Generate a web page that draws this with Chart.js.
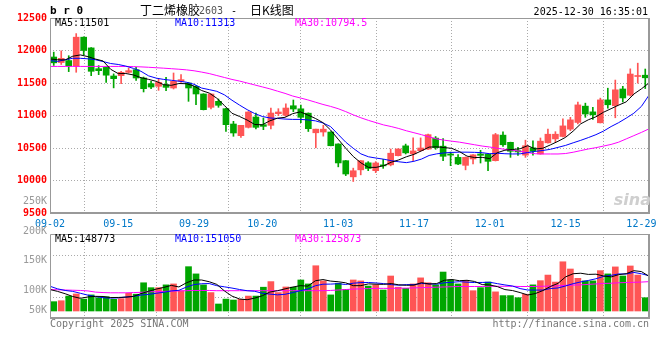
<!DOCTYPE html>
<html lang="zh-CN">
<head>
  <meta charset="UTF-8">
  <title>丁二烯橡胶2603 - 日K线图</title>
  <script src="https://cdn.jsdelivr.net/npm/chart.js"></script>
  <style>
    * { box-sizing: border-box; }
    body { margin: 0; background: #fff; }
    #wrap { position: relative; width: 660px; height: 360px; }
    #kChart { position: absolute; left: 0; top: 0; }
    #volChart { position: absolute; left: 0; top: 195px; }
  </style>
</head>
<body>
  <div id="wrap">
    <canvas id="kChart" width="660" height="232"></canvas>
    <canvas id="volChart" width="660" height="165"></canvas>
  </div>

  <script>
    const dates = [
      '09-02','09-03','09-04','09-05','09-08','09-09','09-10','09-11','09-12','09-15',
      '09-16','09-17','09-18','09-19','09-22','09-23','09-24','09-25','09-26','09-29',
      '09-30','10-09','10-10','10-13','10-14','10-15','10-16','10-17','10-20','10-21',
      '10-22','10-23','10-24','10-27','10-28','10-29','10-30','10-31','11-03','11-04',
      '11-05','11-06','11-07','11-10','11-11','11-12','11-13','11-14','11-17','11-18',
      '11-19','11-20','11-21','11-24','11-25','11-26','11-27','11-28','12-01','12-02',
      '12-03','12-04','12-05','12-08','12-09','12-10','12-11','12-12','12-15','12-16',
      '12-17','12-18','12-19','12-22','12-23','12-24','12-25','12-26','12-29','12-30'
    ];
    const tickDates = ['09-02','09-15','09-29','10-20','11-03','11-17','12-01','12-15','12-29'];

    const opens = [
      11900,11815,11845,11765,12205,12040,11720,11740,11608,11613,
      11664,11705,11577,11490,11449,11474,11423,11526,11500,11449,
      11331,11126,11218,11105,10869,10690,10818,10977,10859,10849,
      11028,11003,11150,11103,11036,10734,10746,10746,10562,10305,
      10056,10164,10272,10151,10238,10241,10382,10533,10410,10459,
      10483,10652,10528,10408,10356,10233,10331,10408,10408,10305,
      10698,10587,10459,10390,10503,10408,10580,10640,10677,10790,
      10893,11144,11056,10888,11240,11150,11408,11312,11600,11620
    ];
    const highs = [
      11975,11995,11920,12260,12210,12045,11767,11745,11640,11680,
      11730,11740,11592,11526,11562,11587,11654,11628,11505,11460,
      11335,11335,11254,11110,10910,10849,11060,11038,10962,11115,
      11105,11180,11238,11161,11040,10790,10850,10750,10565,10308,
      10190,10308,10290,10290,10325,10485,10487,10560,10655,10655,
      10715,10677,10644,10438,10397,10362,10400,10464,10410,10725,
      10748,10590,10510,10620,10610,10654,10792,10751,10950,10972,
      11208,11190,11126,11267,11420,11545,11449,11718,11805,11715
    ];
    const lows = [
      11770,11785,11675,11665,11935,11613,11628,11510,11425,11490,
      11654,11540,11362,11413,11387,11382,11408,11510,11218,11167,
      11085,11100,11126,10757,10680,10664,10808,10792,10782,10792,
      10997,10987,11059,10888,10754,10503,10682,10533,10210,10075,
      9985,10087,10151,10120,10187,10225,10380,10408,10305,10450,
      10480,10480,10305,10228,10244,10164,10254,10269,10151,10300,
      10526,10356,10387,10356,10390,10405,10575,10587,10670,10767,
      10870,10972,10938,10885,11112,10965,11208,11300,11498,11415
    ];
    const closes = [
      11810,11880,11765,12205,12000,11680,11690,11620,11567,11664,
      11690,11577,11413,11438,11510,11433,11526,11551,11423,11331,
      11090,11331,11157,10859,10731,10849,11054,10818,10833,11038,
      11054,11115,11100,10972,10797,10790,10790,10535,10270,10100,
      10150,10305,10185,10270,10225,10420,10485,10425,10455,10500,
      10705,10505,10372,10390,10254,10356,10395,10387,10295,10705,
      10550,10450,10440,10535,10449,10605,10712,10712,10840,10933,
      11163,11023,11010,11240,11165,11395,11270,11638,11605,11580
    ];
    const ma5 = [
      11870,11858,11855,11912,11932,11906,11868,11839,11711,11644,
      11646,11624,11582,11556,11526,11474,11464,11492,11489,11453,
      11384,11345,11266,11154,11034,10985,10930,10862,10857,10918,
      10959,10972,11028,11056,11008,10955,10890,10777,10636,10497,
      10369,10272,10202,10202,10227,10281,10317,10365,10402,10457,
      10514,10518,10507,10494,10445,10375,10353,10356,10337,10428,
      10466,10477,10488,10536,10485,10496,10548,10603,10664,10760,
      10872,10934,10980,11050,11105,11160,11210,11330,11410,11501
    ];
    const ma10 = [
      11845,11832,11858,11880,11880,11872,11858,11830,11800,11785,
      11760,11725,11680,11610,11575,11555,11542,11528,11512,11480,
      11422,11398,11372,11318,11235,11160,11090,11030,10985,10962,
      10955,10945,10940,10940,10932,10918,10885,10830,10710,10590,
      10495,10410,10365,10345,10328,10305,10288,10275,10295,10330,
      10385,10410,10425,10432,10436,10436,10433,10428,10412,10420,
      10412,10408,10410,10430,10448,10462,10480,10510,10540,10580,
      10618,10660,10705,10760,10830,10890,10960,11035,11140,11313
    ];
    const ma30 = [
      11755,11755,11755,11755,11755,11755,11755,11755,11755,11755,
      11755,11752,11748,11742,11735,11728,11720,11712,11702,11688,
      11668,11645,11615,11585,11555,11530,11500,11470,11440,11410,
      11375,11340,11300,11270,11240,11205,11170,11140,11105,11060,
      11010,10965,10925,10890,10855,10830,10800,10765,10735,10705,
      10670,10640,10620,10605,10590,10570,10550,10530,10515,10495,
      10480,10465,10450,10430,10412,10408,10408,10408,10415,10435,
      10460,10485,10505,10530,10555,10590,10640,10690,10740,10794.5
    ];

    const volumes = [
      40000,44000,64000,73000,51000,69000,57000,61000,50000,53000,
      76000,72000,121000,100000,100000,112000,116000,87000,190000,159000,
      112000,79000,30000,51000,47000,50000,64000,64000,102000,126000,
      79000,103000,102000,133000,116000,194000,129000,69000,119000,93000,
      133000,129000,107000,112000,90000,150000,102000,97000,116000,142000,
      121000,112000,167000,133000,116000,130000,87000,100000,124000,82000,
      66000,66000,57000,72000,112000,130000,154000,124000,211000,180000,
      140000,129000,129000,173000,159000,189000,150000,193000,154000,57000
    ];
    const volMa5 = [
      92000,84000,74000,62000,54400,60200,62800,62200,57600,58000,
      59400,62400,74400,84400,93800,101000,109800,103000,121000,132800,
      132800,125400,114000,86200,63800,51400,48400,55200,65400,81200,
      87000,94800,102400,108600,106600,129600,134800,128200,125400,120800,
      108600,108600,116200,114800,114200,117600,112200,110200,111000,121400,
      115600,117600,131600,135000,129800,131600,126600,113200,111400,104600,
      91800,87600,79000,68600,74600,87400,105000,118400,146200,159800,
      161800,156800,157800,150200,146000,155800,160000,172800,169000,148773
    ];
    const volMa10 = [
      106000,95000,88000,84000,76000,68000,62000,57000,55000,56200,
      59800,62600,68300,71000,75900,80200,86100,88700,102700,113300,
      116900,117600,108500,103600,98300,92100,86900,84600,75800,72500,
      69200,71600,78800,87000,93900,108300,114800,115300,117000,113700,
      119100,121700,122200,120100,117500,113100,110400,113200,112900,117800,
      116600,114900,120900,123000,125600,123600,122100,122400,123200,117200,
      111700,107100,96100,90000,89600,89600,96300,98700,107400,117200,
      124600,130900,138100,148200,152900,158800,158400,165300,159600,151050
    ];
    const volMa30 = [
      92000,91000,90000,89000,88000,86000,81000,79000,78000,78000,
      78000,79000,80000,82000,83000,84000,85000,86000,87000,88000,
      88000,88000,87000,87000,87000,87000,87000,87000,87000,87000,
      87000,87000,87000,87000,87000,87000,87000,88000,90000,92000,
      94000,95000,96000,97000,97000,97000,98000,98000,99000,100000,
      101000,102000,103000,104000,105000,105000,105000,105000,106000,106000,
      106000,106000,105000,105000,105000,106000,107000,108000,110000,111000,
      112000,114000,116000,118000,119000,121000,122000,123000,124000,125873
    ];
    const volTickValues = [250000, 200000, 150000, 100000, 50000];

    const UP = '#ff5555';
    const DOWN = '#00a600';
    const MONO = '"DejaVu Sans Mono", monospace';
    const CJK = '"Noto Sans CJK SC", sans-serif';

    const candleColors = closes.map((c, i) => c >= opens[i] ? UP : DOWN);
    const tickIdx = tickDates.map(d => dates.indexOf(d));
    const last = arr => arr[arr.length - 1];

    Chart.defaults.font.family = MONO;
    Chart.defaults.font.size = 10;
    Chart.defaults.animation = false;

    // grey box round the plot, right and bottom edges a bit heavier
    const frame = {
      id: 'frame',
      afterDraw(chart) {
        const { ctx, chartArea: a } = chart;
        ctx.save();
        ctx.strokeStyle = '#999';
        ctx.lineWidth = 1;
        ctx.beginPath();
        ctx.moveTo(a.left + 0.5, a.bottom);
        ctx.lineTo(a.left + 0.5, a.top + 0.5);
        ctx.lineTo(a.right, a.top + 0.5);
        ctx.stroke();
        ctx.lineWidth = 2;
        ctx.beginPath();
        ctx.moveTo(a.right, a.top);
        ctx.lineTo(a.right, a.bottom);
        ctx.lineTo(a.left, a.bottom);
        ctx.stroke();
        ctx.restore();
      }
    };

    function maLegend(items) {
      return {
        id: 'maLegend',
        afterDraw(chart) {
          const { ctx, chartArea: a } = chart;
          ctx.save();
          ctx.font = '10px ' + MONO;
          ctx.textBaseline = 'middle';
          ctx.textAlign = 'left';
          items.forEach((it, k) => {
            ctx.fillStyle = it.color;
            ctx.fillText(it.text, a.left + 5 + 120 * k, a.top + 5.5);
          });
          ctx.restore();
        }
      };
    }

    const header = {
      id: 'header',
      afterDraw(chart) {
        const ctx = chart.ctx;
        ctx.save();
        ctx.textBaseline = 'middle';
        ctx.fillStyle = '#000';
        ctx.font = 'bold 11px ' + MONO;
        ctx.fillText('b r 0', 50, 11);

        ctx.font = '12px ' + CJK;
        ctx.fillText('丁二烯橡胶', 140, 10);
        ctx.fillStyle = '#555';
        ctx.font = '10px ' + MONO;
        ctx.fillText('2603', 199, 11);
        ctx.fillStyle = '#000';
        ctx.fillText('-', 231, 11);
        ctx.font = '12px ' + CJK;
        ctx.fillText('日K线图', 250, 10);

        ctx.font = '10px ' + MONO;
        ctx.textAlign = 'right';
        ctx.fillText('2025-12-30 16:35:01', 648, 12.5);

        // sina watermark
        ctx.fillStyle = '#cfcfcf';
        ctx.font = 'italic bold 16px "DejaVu Sans", sans-serif';
        ctx.fillText('sina', 651, 201);
        ctx.restore();
      }
    };

    const volLabels = {
      id: 'volLabels',
      afterDraw(chart) {
        const { ctx, chartArea: a } = chart;
        const s = chart.scales.yl;
        ctx.save();
        ctx.font = '10px ' + MONO;
        ctx.textBaseline = 'middle';
        ctx.textAlign = 'right';
        ctx.fillStyle = '#999';
        volTickValues.forEach(v => {
          const y = Math.min(s.getPixelForValue(v), a.bottom - 8);
          ctx.fillText(v / 1000 + 'K', 47, y);
        });
        ctx.fillStyle = '#777';
        ctx.textAlign = 'left';
        ctx.fillText('Copyright 2025 SINA.COM', 50, 129);
        ctx.textAlign = 'right';
        ctx.fillText('http://finance.sina.com.cn', 649, 129);
        ctx.restore();
      }
    };

    const dotted = { display: false, dash: [1, 2] };

    function lineSet(data, color, order) {
      return {
        type: 'line', data, xAxisID: 'x2', borderColor: color, borderWidth: 1,
        pointRadius: 0, fill: false, tension: 0, order
      };
    }

    new Chart(document.getElementById('kChart'), {
      type: 'bar',
      data: {
        labels: dates,
        datasets: [
          lineSet(ma5, '#000', 0),
          lineSet(ma10, '#0000ff', 1),
          lineSet(ma30, '#ff00ff', 2),
          {
            data: opens.map((o, i) => [o, closes[i]]),
            xAxisID: 'x', backgroundColor: candleColors,
            barThickness: 6, grouped: false, minBarLength: 1, order: 4
          },
          {
            data: lows.map((l, i) => [l, highs[i]]),
            xAxisID: 'x', backgroundColor: candleColors,
            barThickness: 1, grouped: false, order: 5
          }
        ]
      },
      options: {
        responsive: false,
        layout: { padding: { top: 18, right: 11, left: 0, bottom: 0 } },
        plugins: { legend: { display: false }, tooltip: { enabled: false } },
        events: [],
        scales: {
          x: { type: 'category', offset: true, display: false },
          x2: {
            type: 'category', position: 'bottom', offset: false,
            grid: { color: '#aaa', drawTicks: false },
            border: dotted,
            ticks: { color: '#0078c8', padding: 5, autoSkip: false, maxRotation: 0 },
            afterBuildTicks: s => { s.ticks = tickIdx.map(v => ({ value: v })); },
            afterFit: s => { s.height = 19; s.paddingLeft = 0; s.paddingRight = 0; }
          },
          y: {
            min: 9500, max: 12500,
            grid: { color: '#aaa', drawTicks: false },
            border: dotted,
            ticks: {
              stepSize: 500, color: '#ff0000', padding: 3, font: { weight: 'bold' },
              callback: v => String(v)
            },
            afterFit: s => { s.width = 50; }
          }
        }
      },
      plugins: [frame, header, maLegend([
        { text: 'MA5:' + last(ma5), color: '#000' },
        { text: 'MA10:' + last(ma10), color: '#0000ff' },
        { text: 'MA30:' + last(ma30), color: '#ff00ff' }
      ])]
    });

    new Chart(document.getElementById('volChart'), {
      type: 'bar',
      data: {
        labels: dates,
        datasets: [
          lineSet(volMa5, '#000', 0),
          lineSet(volMa10, '#0000ff', 1),
          lineSet(volMa30, '#ff00ff', 2),
          {
            data: volumes, xAxisID: 'x', backgroundColor: candleColors,
            barThickness: 6, grouped: false, order: 4
          }
        ]
      },
      options: {
        responsive: false,
        layout: { padding: { top: 39, right: 11, left: 0, bottom: 0 } },
        plugins: { legend: { display: false }, tooltip: { enabled: false } },
        events: [],
        scales: {
          x: { type: 'category', offset: true, display: false },
          x2: {
            type: 'category', position: 'bottom', offset: false,
            grid: { color: '#aaa', drawTicks: false },
            border: dotted,
            ticks: { display: false },
            afterBuildTicks: s => { s.ticks = tickIdx.map(v => ({ value: v })); },
            afterFit: s => { s.height = 42; s.paddingLeft = 0; s.paddingRight = 0; }
          },
          y: {
            min: -30000, max: 330000,
            grid: { color: '#aaa', drawTicks: false },
            border: dotted,
            ticks: { display: false },
            afterBuildTicks: s => {
              s.ticks = [0.25, 0.75].map(f => ({ value: s.min + (s.max - s.min) * f }));
            },
            afterFit: s => { s.width = 50; }
          },
          yl: { type: 'linear', display: false, min: 52540, max: 194900 }
        }
      },
      plugins: [frame, volLabels, maLegend([
        { text: 'MA5:' + last(volMa5), color: '#000' },
        { text: 'MA10:' + last(volMa10), color: '#0000ff' },
        { text: 'MA30:' + last(volMa30), color: '#ff00ff' }
      ])]
    });
  </script>
</body>
</html>
